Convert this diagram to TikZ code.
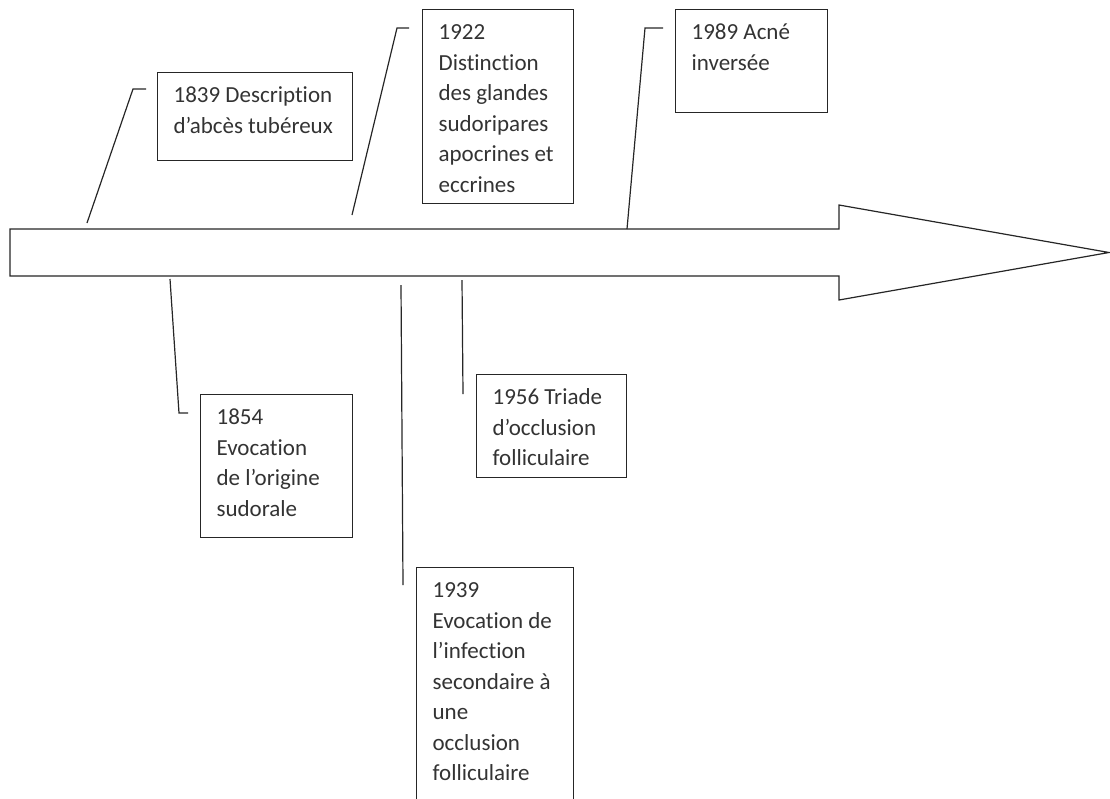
\documentclass[tikz,border=0pt]{standalone}
\usepackage{fontspec}
\setmainfont[RawFeature={-liga}]{Carlito}
\newcommand\bxtext[3]{\parbox[t][#2][t]{#1}{\raggedright\strut #3}}
\begin{document}
\begin{tikzpicture}[x=1pt,y=-1pt,
  ln/.style={line width=1.2pt,black!85},
  evbox/.style={draw=black!85,line width=1.2pt,anchor=north west,inner xsep=16pt,inner ysep=8.6pt,
    font=\fontsize{23}{30.5}\selectfont,text=black!80}]
\useasboundingbox (0,0) rectangle (1110,798);
\clip (0,0) rectangle (1110,798);
% timeline arrow
\draw[ln,fill=white] (10,229) -- (839,229) -- (839,205) -- (1109,252.5) -- (839,300) -- (839,276) -- (10,276) -- cycle;
% boxes
\node[evbox] (b1839) at (157,72) {\bxtext{163pt}{70.8pt}{1839 Description\\d’abcès tubéreux}};
\node[evbox] (b1922) at (422,9) {\bxtext{119pt}{176.8pt}{1922\\Distinction\\des glandes\\sudoripares\\apocrines et\\eccrines}};
\node[evbox] (b1989) at (675,9) {\bxtext{120pt}{85.8pt}{1989 Acné\\inversée}};
\node[evbox] (b1854) at (200,394) {\bxtext{120pt}{125.8pt}{1854\\Evocation\\de l’origine\\sudorale}};
\node[evbox] (b1956) at (476,374) {\bxtext{118pt}{85.8pt}{1956 Triade\\d’occlusion\\folliculaire}};
\node[evbox] (b1939) at (416,567) {\bxtext{125pt}{242.8pt}{1939\\Evocation de\\l’infection\\secondaire à\\une\\occlusion\\folliculaire}};
% connector points
\coordinate (a1839) at (87,223);  \coordinate (k1839) at (133,89);  \coordinate (e1839) at (146,89);
\coordinate (a1922) at (352,215); \coordinate (k1922) at (397,28);  \coordinate (e1922) at (409,28);
\coordinate (a1989) at (627,229); \coordinate (k1989) at (645,28);  \coordinate (e1989) at (663,28);
\coordinate (a1854) at (170,279); \coordinate (k1854) at (179,413); \coordinate (e1854) at (188,413);
\coordinate (a1939) at (401,285); \coordinate (e1939) at (403,585);
\coordinate (a1956) at (462,280); \coordinate (e1956) at (463,394);
% connectors
\draw[ln] (a1839) -- (k1839) -- (e1839);
\draw[ln] (a1922) -- (k1922) -- (e1922);
\draw[ln] (a1989) -- (k1989) -- (e1989);
\draw[ln] (a1854) -- (k1854) -- (e1854);
\draw[ln] (a1939) -- (e1939);
\draw[ln] (a1956) -- (e1956);
\end{tikzpicture}
\end{document}
